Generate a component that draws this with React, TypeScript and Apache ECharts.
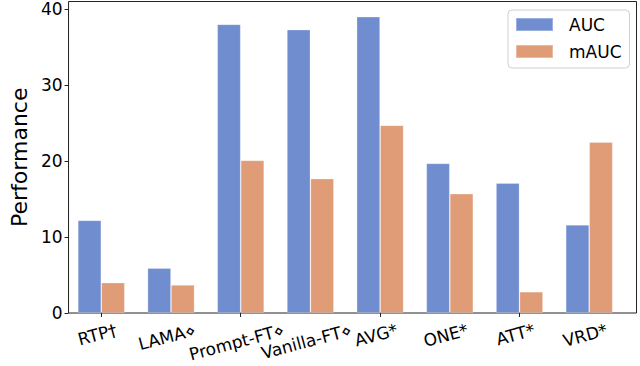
import React, { useEffect, useRef } from "react";
import * as echarts from "echarts";

const categories = ["RTP†", "LAMA⋄", "Prompt-FT⋄", "Vanilla-FT⋄", "AVG*", "ONE*", "ATT*", "VRD*"];
const aucValues = [12.2, 5.9, 38.0, 37.3, 39.0, 19.7, 17.1, 11.6];
const mAucValues = [4.0, 3.7, 20.1, 17.7, 24.7, 15.7, 2.8, 22.5];
const seriesNames = ["AUC", "mAUC"];
const yTicks = { min: 0, max: 41, interval: 10 };

const FONT = '"DejaVu Sans", sans-serif';
const LABEL_SIZE = 17;
const ROT = 15;

function measure(text: string, size: number) {
  const c = document.createElement("canvas");
  const ctx = c.getContext("2d")!;
  ctx.font = `${size}px "DejaVu Sans"`;
  return ctx.measureText(text).width;
}

export default function App() {
  const ref = useRef<HTMLDivElement>(null);
  useEffect(() => {
    if (!ref.current) return;
    const chart = echarts.init(ref.current, null, { renderer: "svg" });
    const gridTop = 1.5;
    const gridBottom = 366 - 313;
    chart.setOption({
      animation: false,
      textStyle: { fontFamily: FONT },
      grid: [
        {
          left: 51,
          right: 3.5,
          top: gridTop,
          bottom: gridBottom,
          show: true,
          borderColor: "#222",
          borderWidth: 1,
          backgroundColor: "transparent",
        },
        { left: 66.45, width: 557.6, top: gridTop, bottom: gridBottom },
      ],
      xAxis: [
        { type: "value", gridIndex: 0, show: false, min: 0, max: 1 },
        {
          type: "category",
          gridIndex: 1,
          data: categories,
          boundaryGap: true,
          axisLine: { show: false },
          axisTick: { show: true, alignWithLabel: true, length: 4, lineStyle: { color: "#222" } },
          axisLabel: { show: false },
        },
      ],
      yAxis: [
        {
          type: "value",
          gridIndex: 0,
          min: yTicks.min,
          max: yTicks.max,
          interval: yTicks.interval,
          splitLine: { show: false },
          axisLine: { show: false },
          axisTick: { show: true, length: 4, lineStyle: { color: "#222" } },
          axisLabel: {
            fontSize: LABEL_SIZE,
            color: "#000",
            margin: 6,
            fontFamily: FONT,
            showMaxLabel: false,
          },
          name: "Performance",
          nameLocation: "middle",
          nameGap: 33,
          nameTextStyle: { fontSize: 22, color: "#000", fontFamily: FONT },
        },
        { type: "value", gridIndex: 1, show: false, min: yTicks.min, max: yTicks.max },
      ],
      legend: {
        orient: "vertical",
        left: 508,
        top: 10,
        icon: "rect",
        itemWidth: 37,
        itemHeight: 13,
        itemGap: 10,
        padding: [6, 8, 8, 7],
        borderColor: "#d0d0d0",
        borderWidth: 1,
        borderRadius: 4,
        backgroundColor: "rgba(255,255,255,0.8)",
        textStyle: { fontSize: LABEL_SIZE, color: "#000", fontFamily: FONT, padding: [0, 0, 0, 11] },
        data: seriesNames,
      },
      series: [
        {
          name: seriesNames[0],
          type: "bar",
          xAxisIndex: 1,
          yAxisIndex: 1,
          data: aucValues,
          barWidth: 23.5,
          barGap: "0%",
          itemStyle: { color: "#708ecf", borderColor: "rgba(255,255,255,0.3)", borderWidth: 0.8 },
        },
        {
          name: seriesNames[1],
          type: "bar",
          xAxisIndex: 1,
          yAxisIndex: 1,
          data: mAucValues,
          barWidth: 23.5,
          barGap: "0%",
          itemStyle: { color: "#e09c77", borderColor: "rgba(255,255,255,0.3)", borderWidth: 0.8 },
        },
      ],
    });

    // Category labels, rotated like matplotlib (bbox top below tick, centred)
    const th = (ROT * Math.PI) / 180;
    const h = LABEL_SIZE * 1.15;
    const axisY = chart.convertToPixel({ yAxisIndex: 1 }, 0) as number;
    const texts = categories.map((name, i) => {
      const cx = chart.convertToPixel({ xAxisIndex: 1 }, i) as number;
      const w = measure(name, LABEL_SIZE);
      const d = (w * Math.sin(th) + h * Math.cos(th)) / 2;
      return {
        type: "text",
        x: cx - 4,
        y: axisY + 7 + d,
        rotation: th,
        silent: true,
        style: {
          text: name,
          fontSize: LABEL_SIZE,
          fontFamily: FONT,
          fill: "#000",
          align: "center",
          verticalAlign: "middle",
        },
      };
    });
    chart.setOption({ graphic: texts });
    return () => chart.dispose();
  }, []);
  return <div ref={ref} style={{ width: 640, height: 366, position: "absolute", left: 0, top: 0 }} />;
}
